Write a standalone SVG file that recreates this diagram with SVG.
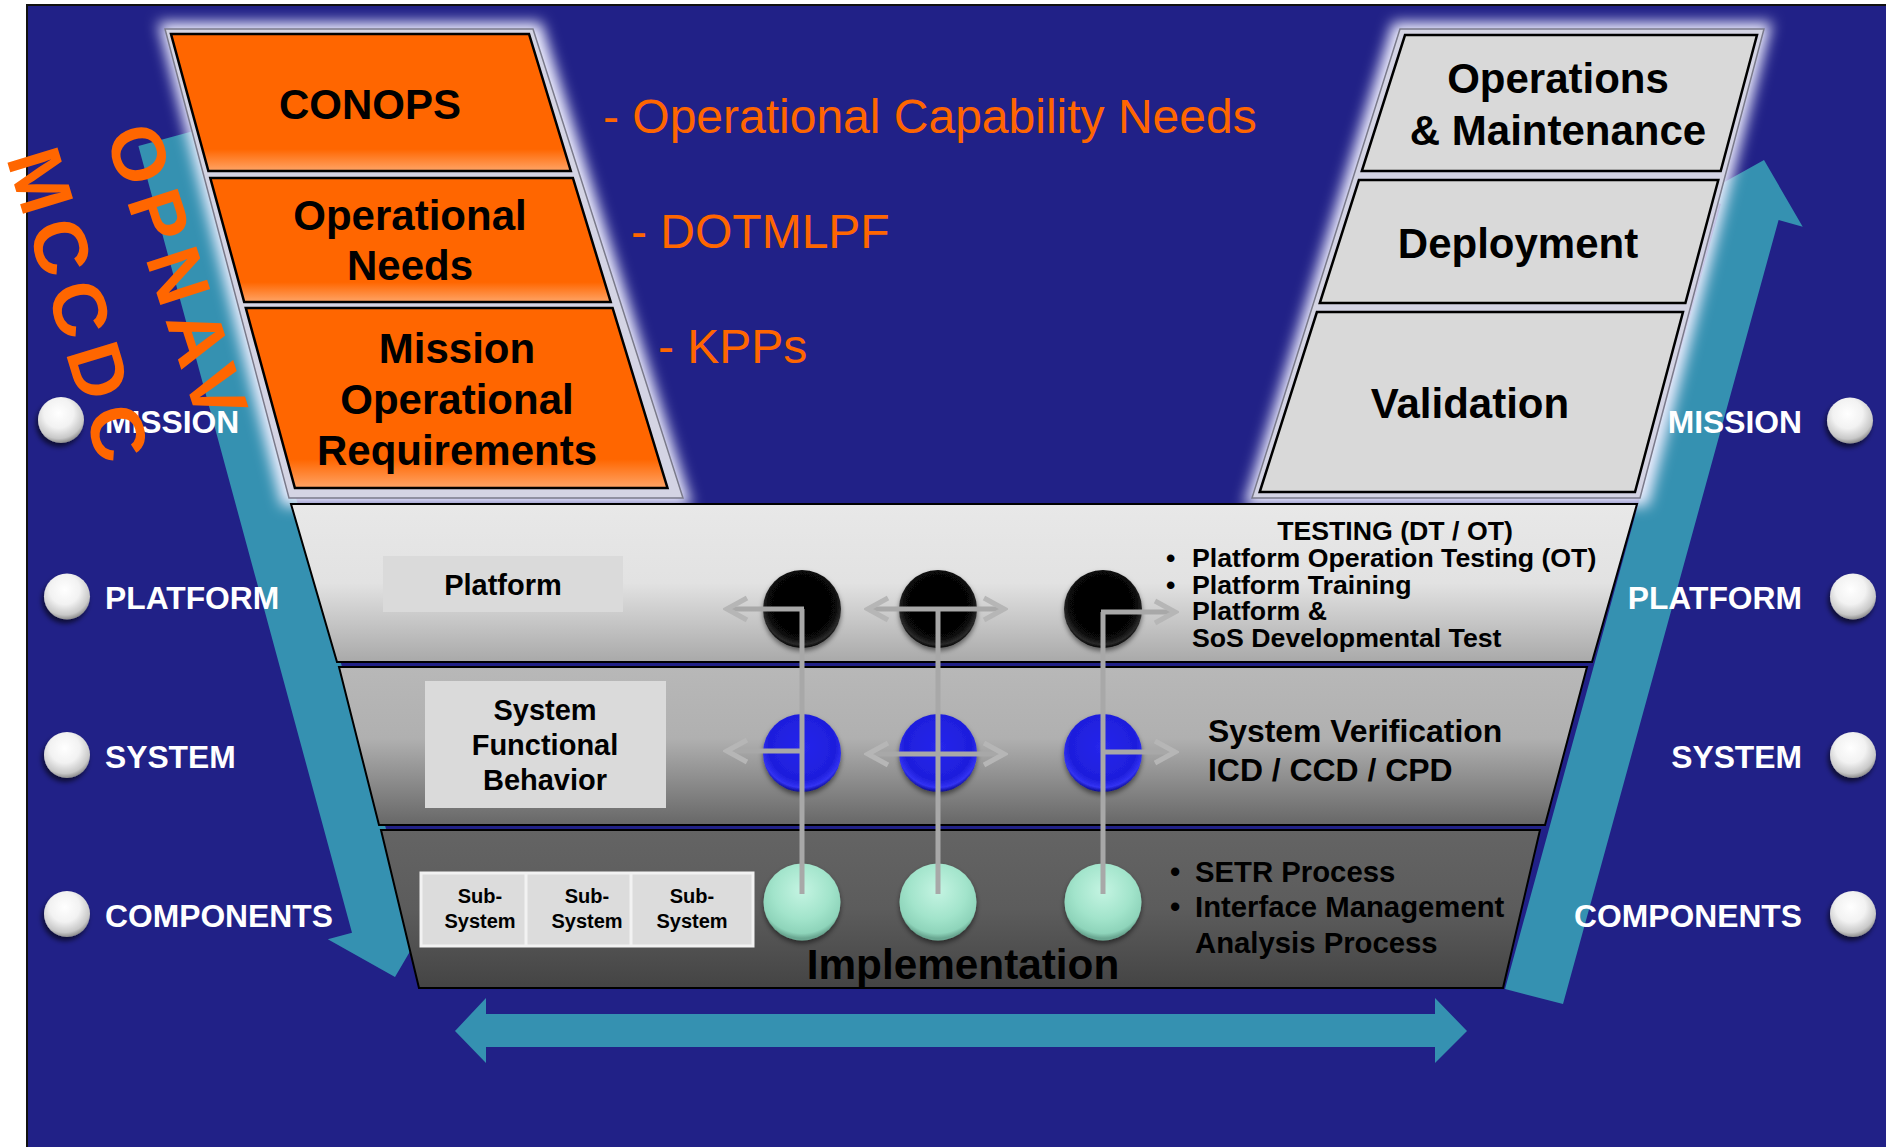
<svg xmlns="http://www.w3.org/2000/svg" width="1886" height="1147" viewBox="0 0 1886 1147">
<style>
  text { font-family: "Liberation Sans", Arial, Helvetica, sans-serif; }
  .stk { font-size: 42px; font-weight: bold; fill: #000; text-anchor: middle; }
  .org { font-size: 48px; fill: #FF6600; }
  .lvl { font-size: 31.8px; font-weight: bold; fill: #FFFFFF; }
  .end { text-anchor: end; }
  .mid { text-anchor: middle; }
  .b { font-weight: bold; fill: #000; }
  .rot { font-size: 76px; font-weight: bold; fill: #FF6600; letter-spacing: 10px; }
  .teal { fill: #3591B1; }
  .glow { fill: #EEEEFF; filter: url(#blur); }
  .frame { fill: #D4D4E4; stroke: #7A7A8A; stroke-width: 1.5; }
  .obox { fill: url(#orangeG); stroke: #000; stroke-width: 2.5; }
  .gbox { fill: #D9D9D9; stroke: #000; stroke-width: 2.5; }
  .layer { stroke: #000; stroke-width: 2; }
  .lbl { fill: #DADADA; }
  .conn { fill: none; stroke: #A8A8A8; stroke-width: 5; }
  .arr { marker-end: url(#chev); }
</style>
<defs>
  <linearGradient id="orangeG" x1="0" y1="0" x2="0" y2="1">
    <stop offset="0" stop-color="#FF6600"/>
    <stop offset="0.84" stop-color="#FF6600"/>
    <stop offset="1" stop-color="#FFA466"/>
  </linearGradient>
  <linearGradient id="platG" x1="0" y1="0" x2="0" y2="1">
    <stop offset="0" stop-color="#E8E8E8"/>
    <stop offset="0.5" stop-color="#E2E2E2"/>
    <stop offset="1" stop-color="#A9A9A9"/>
  </linearGradient>
  <linearGradient id="sysG" x1="0" y1="0" x2="0" y2="1">
    <stop offset="0" stop-color="#B8B8B8"/>
    <stop offset="0.45" stop-color="#B0B0B0"/>
    <stop offset="1" stop-color="#676767"/>
  </linearGradient>
  <linearGradient id="impG" x1="0" y1="0" x2="0" y2="1">
    <stop offset="0" stop-color="#646464"/>
    <stop offset="0.5" stop-color="#5C5C5C"/>
    <stop offset="1" stop-color="#444444"/>
  </linearGradient>
  <radialGradient id="ballW" cx="0.45" cy="0.35" r="0.65">
    <stop offset="0" stop-color="#FFFFFF"/>
    <stop offset="0.5" stop-color="#F2F2F2"/>
    <stop offset="0.85" stop-color="#C8C8C8"/>
    <stop offset="1" stop-color="#8E8E8E"/>
  </radialGradient>
  <radialGradient id="ballK" cx="0.5" cy="0.45" r="0.55">
    <stop offset="0" stop-color="#000000"/>
    <stop offset="0.78" stop-color="#070707"/>
    <stop offset="0.92" stop-color="#2A2A2A"/>
    <stop offset="1" stop-color="#000000"/>
  </radialGradient>
  <radialGradient id="ballB" cx="0.5" cy="0.42" r="0.58">
    <stop offset="0" stop-color="#2626EC"/>
    <stop offset="0.75" stop-color="#1E1EDC"/>
    <stop offset="0.9" stop-color="#3232F2"/>
    <stop offset="1" stop-color="#0A0A8C"/>
  </radialGradient>
  <radialGradient id="ballG" cx="0.5" cy="0.35" r="0.62">
    <stop offset="0" stop-color="#C4F4E2"/>
    <stop offset="0.6" stop-color="#A2E4CB"/>
    <stop offset="0.9" stop-color="#8ED4BA"/>
    <stop offset="1" stop-color="#6AA892"/>
  </radialGradient>
  <filter id="blur" x="-10%" y="-10%" width="120%" height="120%">
    <feGaussianBlur stdDeviation="7"/>
  </filter>
  <filter id="drop" x="-30%" y="-30%" width="160%" height="170%">
    <feDropShadow dx="0" dy="3" stdDeviation="2.5" flood-color="#000" flood-opacity="0.5"/>
  </filter>
  <filter id="dropL" x="-40%" y="-40%" width="180%" height="180%">
    <feDropShadow dx="-2" dy="4" stdDeviation="2.5" flood-color="#000" flood-opacity="0.6"/>
  </filter>
  <marker id="chev" viewBox="-24 -14 28 28" refX="0" refY="0" markerWidth="28" markerHeight="28" markerUnits="userSpaceOnUse" orient="auto">
    <path d="M-20,-11 L0,0 L-20,11" fill="none" stroke="#B6B6B6" stroke-width="5"/>
  </marker>
</defs>

<!-- page and panel -->
<g id="background">
  <rect x="0" y="0" width="1886" height="1147" fill="#FFFFFF"/>
  <rect x="27" y="5" width="1870" height="1150" fill="#212187" stroke="#111" stroke-width="2"/>
</g>

<!-- broad teal flow arrows -->
<g id="flow-arrows">
  <polygon class="teal" points="138.4,146 196.3,130.3 409.9,917 434,910.5 395,977 327.8,939.3 352,932.8"/>
  <polygon class="teal" points="1764,160 1802.7,226.7 1778.6,220 1563,1004 1505,989 1720.8,204.1 1696.7,197.5"/>
  <polygon class="teal" points="455,1031 486,998 486,1014 1435,1014 1435,998 1467,1031 1435,1063 1435,1047 486,1047 486,1063"/>
</g>

<!-- requirements stack (left) -->
<g id="stack-left">
  <polygon class="glow" points="158,22 541,22 692,506 282,506"/>
  <polygon class="frame" points="165,29 533,29 683,498 289,498"/>
  <g id="conops">
    <polygon class="obox" points="171,34 529,34 570.8,171 208.4,171"/>
    <text class="stk" x="370" y="119">CONOPS</text>
  </g>
  <g id="operational-needs">
    <polygon class="obox" points="210.3,178 572.9,178 610.7,302 244.2,302"/>
    <text class="stk" x="410" y="230">Operational</text>
    <text class="stk" x="410" y="280">Needs</text>
  </g>
  <g id="mission-operational-requirements">
    <polygon class="obox" points="245.8,308 612.6,308 667.5,488 294.9,488"/>
    <text class="stk" x="457" y="363">Mission</text>
    <text class="stk" x="457" y="414">Operational</text>
    <text class="stk" x="457" y="465">Requirements</text>
  </g>
</g>

<!-- requirement notes -->
<g id="notes">
  <text class="org" x="603" y="133">- Operational Capability Needs</text>
  <text class="org" x="631" y="248">- DOTMLPF</text>
  <text class="org" x="658" y="363">- KPPs</text>
</g>

<!-- fielding stack (right) -->
<g id="stack-right">
  <polygon class="glow" points="1393,22 1772,22 1648,506 1244,506"/>
  <polygon class="frame" points="1400,29 1764,29 1640,498 1252,498"/>
  <g id="operations-maintenance">
    <polygon class="gbox" points="1405,35 1757,35 1720.7,171 1361.8,171"/>
    <text class="stk" x="1558" y="93">Operations</text>
    <text class="stk" x="1558" y="145">&amp; Maintenance</text>
  </g>
  <g id="deployment">
    <polygon class="gbox" points="1358.9,180 1718.3,180 1685.4,303 1319.8,303"/>
    <text class="stk" x="1518" y="258">Deployment</text>
  </g>
  <g id="validation">
    <polygon class="gbox" points="1316.9,312 1683,312 1635,492 1259.7,492"/>
    <text class="stk" x="1470" y="418">Validation</text>
  </g>
</g>

<!-- platform layer -->
<g id="layer-platform">
  <polygon class="layer" fill="url(#platG)" points="291,504 1637,504 1592,662 337,662"/>
  <rect class="lbl" x="383" y="556" width="240" height="56"/>
  <text class="b mid" x="503" y="595" font-size="29">Platform</text>
  <text class="b mid" x="1395" y="540" font-size="26.7">TESTING (DT / OT)</text>
  <g class="b" font-size="26.7">
    <text x="1166" y="567">•</text>
    <text x="1192" y="567">Platform Operation Testing (OT)</text>
    <text x="1166" y="594">•</text>
    <text x="1192" y="594">Platform Training</text>
    <text x="1192" y="620">Platform &amp;</text>
    <text x="1192" y="647">SoS Developmental Test</text>
  </g>
</g>

<!-- system layer -->
<g id="layer-system">
  <polygon class="layer" fill="url(#sysG)" points="339,667 1587,667 1545,825 379,825"/>
  <rect class="lbl" x="425" y="681" width="241" height="127"/>
  <g class="b mid" font-size="29">
    <text x="545" y="720">System</text>
    <text x="545" y="755">Functional</text>
    <text x="545" y="790">Behavior</text>
  </g>
  <g class="b" font-size="31.9">
    <text x="1208" y="742">System Verification</text>
    <text x="1208" y="781">ICD / CCD / CPD</text>
  </g>
</g>

<!-- implementation layer -->
<g id="layer-implementation">
  <polygon class="layer" fill="url(#impG)" points="381,830 1540,830 1503,988 419,988"/>
  <g id="subsystems">
    <rect x="421" y="873" width="332" height="73" fill="#DCDCDC" stroke="#F2F2F2" stroke-width="3"/>
    <line x1="526" y1="873" x2="526" y2="946" stroke="#F2F2F2" stroke-width="3"/>
    <line x1="631" y1="873" x2="631" y2="946" stroke="#F2F2F2" stroke-width="3"/>
    <g class="b mid" font-size="20">
      <text x="480" y="903">Sub-</text>
      <text x="480" y="928">System</text>
      <text x="587" y="903">Sub-</text>
      <text x="587" y="928">System</text>
      <text x="692" y="903">Sub-</text>
      <text x="692" y="928">System</text>
    </g>
  </g>
  <text class="b mid" x="963" y="979" font-size="42.3" fill="#111">Implementation</text>
  <g class="b" font-size="29.3">
    <text x="1170" y="882">•</text>
    <text x="1195" y="882">SETR Process</text>
    <text x="1170" y="917">•</text>
    <text x="1195" y="917">Interface Management</text>
    <text x="1195" y="953">Analysis Process</text>
  </g>
</g>

<!-- process nodes -->
<g id="platform-nodes" filter="url(#drop)">
  <g id="p1"><circle cx="802" cy="609" r="39" fill="url(#ballK)"/></g>
  <g id="p2"><circle cx="938" cy="609" r="39" fill="url(#ballK)"/></g>
  <g id="p3"><circle cx="1103" cy="609" r="39" fill="url(#ballK)"/></g>
</g>
<g id="system-nodes" filter="url(#drop)">
  <g id="s1"><circle cx="802" cy="753" r="39" fill="url(#ballB)"/></g>
  <g id="s2"><circle cx="938" cy="753" r="39" fill="url(#ballB)"/></g>
  <g id="s3"><circle cx="1103" cy="753" r="39" fill="url(#ballB)"/></g>
</g>
<g id="component-nodes" filter="url(#drop)">
  <g id="c1"><circle cx="802" cy="902" r="38.5" fill="url(#ballG)"/></g>
  <g id="c2"><circle cx="938" cy="902" r="38.5" fill="url(#ballG)"/></g>
  <g id="c3"><circle cx="1103" cy="902" r="38.5" fill="url(#ballG)"/></g>
</g>

<!-- traces between nodes -->
<g id="connectors">
  <path class="conn" d="M802,609 V894"/>
  <path class="conn" d="M938,609 V894"/>
  <path class="conn" d="M1103,612 V894"/>
  <path class="conn arr" d="M804,609 H727"/>
  <path class="conn arr" d="M938,609 H868"/>
  <path class="conn arr" d="M938,609 H1004"/>
  <path class="conn arr" d="M1101,612 H1175"/>
  <path class="conn arr" d="M804,751 H727"/>
  <path class="conn arr" d="M938,754 H868"/>
  <path class="conn arr" d="M938,754 H1004"/>
  <path class="conn arr" d="M1101,752 H1175"/>
</g>

<!-- level markers, left -->
<g id="levels-left">
  <g filter="url(#dropL)">
    <ellipse cx="61" cy="420" rx="23" ry="23" fill="url(#ballW)"/>
    <ellipse cx="67" cy="596.5" rx="23" ry="23" fill="url(#ballW)"/>
    <ellipse cx="67" cy="755" rx="23" ry="23" fill="url(#ballW)"/>
    <ellipse cx="67" cy="914" rx="23" ry="23" fill="url(#ballW)"/>
  </g>
  <text class="lvl" x="105" y="432.5">MISSION</text>
  <text class="lvl" x="105" y="609">PLATFORM</text>
  <text class="lvl" x="105" y="767.5">SYSTEM</text>
  <text class="lvl" x="105" y="926.5">COMPONENTS</text>
</g>

<!-- level markers, right -->
<g id="levels-right">
  <g filter="url(#dropL)">
    <ellipse cx="1850" cy="420.5" rx="23" ry="23" fill="url(#ballW)"/>
    <ellipse cx="1853" cy="596.5" rx="23" ry="23" fill="url(#ballW)"/>
    <ellipse cx="1853" cy="755" rx="23" ry="23" fill="url(#ballW)"/>
    <ellipse cx="1853" cy="914" rx="23" ry="23" fill="url(#ballW)"/>
  </g>
  <text class="lvl end" x="1802" y="432.5">MISSION</text>
  <text class="lvl end" x="1802" y="609">PLATFORM</text>
  <text class="lvl end" x="1802" y="767.5">SYSTEM</text>
  <text class="lvl end" x="1802" y="926.5">COMPONENTS</text>
</g>

<!-- sponsoring organisations -->
<g id="organisations">
  <text class="rot" transform="translate(104.8,134.3) rotate(72)">OPNAV</text>
  <text class="rot" transform="translate(6,158.1) rotate(73)">MCCDC</text>
</g>
</svg>
